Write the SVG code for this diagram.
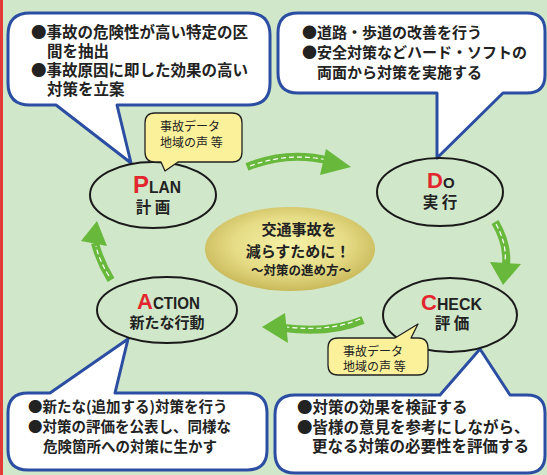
<svg xmlns="http://www.w3.org/2000/svg" width="547" height="475" viewBox="0 0 547 475">
<defs>
<radialGradient id="cg" cx="50%" cy="45%" r="55%">
<stop offset="0" stop-color="#f6f2a8"/>
<stop offset="0.6" stop-color="#e6dc86"/>
<stop offset="1" stop-color="#c9b95a"/>
</radialGradient>
<style>
.jp{font-family:"Noto Sans CJK JP","Noto Sans CJK SC",sans-serif;fill:#222;}
.call{fill:#fff;stroke:#2b4ea3;stroke-width:3;stroke-linejoin:round;}
.bub{fill:#fbf19a;stroke:#222;stroke-width:1.3;stroke-linejoin:round;}
.ell{fill:none;stroke:#1a1a1a;stroke-width:2;}
.shaft{fill:none;stroke:#67b83b;stroke-width:8;}
.dash{fill:none;stroke:#fff;stroke-width:1.2;stroke-dasharray:5 3;}
.head{fill:#67b83b;}
.lat{font-family:"Liberation Sans",Arial,sans-serif;font-weight:bold;fill:#222;}
.red{fill:#e3262e;}
</style>
</defs>
<rect x="0" y="0" width="547" height="475" fill="#d0e7c9"/>
<rect x="0" y="0" width="3" height="475" fill="#e23a36"/>

<g id="connectors">
<path class="shaft" d="M247,167 Q288,150 330,161"/>
<path class="dash" d="M250,166 Q288,152 328,160"/>
<polygon class="head" points="351,167 326,149 320,175"/>

<path class="shaft" d="M495,222 Q508,244 506,265"/>
<path class="dash" d="M496,224 Q507,244 505,262"/>
<polygon class="head" points="503,285 490,262 521,264"/>

<path class="shaft" d="M363,320 Q330,334 284,328"/>
<path class="dash" d="M360,319 Q330,332 287,327"/>
<polygon class="head" points="262,327 285,313 288,343"/>

<path class="shaft" d="M111,280 Q100,262 95,243"/>
<path class="dash" d="M109,276 Q99,260 96,246"/>
<polygon class="head" points="97,221 81,241 107,246"/>
</g>

<g id="center">
<ellipse cx="290" cy="249" rx="85" ry="42" fill="url(#cg)"/>
<text class="jp" x="299" y="235" font-size="15" font-weight="bold" text-anchor="middle">交通事故を</text>
<text class="jp" x="298" y="257" font-size="15" font-weight="bold" text-anchor="middle">減らすために！</text>
<text class="jp" x="301" y="275" font-size="12.5" font-weight="bold" text-anchor="middle">～対策の進め方～</text>
</g>

<g id="callout-plan">
<path class="call" d="M30,13 H248 Q270,13 270,35 V83 Q270,105 248,105 H117 L131,163 L56,105 H30 Q8,105 8,83 V35 Q8,13 30,13 Z"/>
<text class="jp" x="31" y="38" font-size="15.5" font-weight="bold">●事故の危険性が高い特定の区</text>
<text class="jp" x="47" y="57" font-size="15.5" font-weight="bold">間を抽出</text>
<text class="jp" x="31" y="76" font-size="15.5" font-weight="bold">●事故原因に即した効果の高い</text>
<text class="jp" x="47" y="95" font-size="15.5" font-weight="bold">対策を立案</text>
</g>

<g id="callout-do">
<path class="call" d="M298,13 H527 Q545,13 545,31 V75 Q545,93 527,93 H503 L437,158 L437,93 H298 Q278,93 278,73 V33 Q278,13 298,13 Z"/>
<text class="jp" x="302" y="38" font-size="15" font-weight="bold">●道路・歩道の改善を行う</text>
<text class="jp" x="302" y="58" font-size="15" font-weight="bold">●安全対策などハード・ソフトの</text>
<text class="jp" x="317" y="78" font-size="15" font-weight="bold">両面から対策を実施する</text>
</g>

<g id="callout-action">
<path class="call" d="M28,393 H50 L128,339 L115,393 H247 Q267,393 267,413 V450 Q267,470 247,470 H28 Q8,470 8,450 V413 Q8,393 28,393 Z"/>
<text class="jp" x="28" y="412" font-size="14.5" font-weight="bold">●新たな(追加する)対策を行う</text>
<text class="jp" x="28" y="432" font-size="14.5" font-weight="bold">●対策の評価を公表し、同様な</text>
<text class="jp" x="43" y="452" font-size="14.5" font-weight="bold">危険箇所への対策に生かす</text>
</g>

<g id="callout-check">
<path class="call" d="M295,395 H440 L480,349 L510,395 H527 Q545,395 545,413 V455 Q545,473 527,473 H295 Q275,473 275,453 V415 Q275,395 295,395 Z"/>
<text class="jp" x="297" y="413" font-size="15.5" font-weight="bold">●対策の効果を検証する</text>
<text class="jp" x="297" y="433" font-size="15.5" font-weight="bold">●皆様の意見を参考にしながら、</text>
<text class="jp" x="312" y="452" font-size="15.5" font-weight="bold">更なる対策の必要性を評価する</text>
</g>

<g id="plan">
<ellipse class="ell" cx="153" cy="195" rx="63" ry="33"/>
<text class="lat" x="133" y="193"><tspan class="red" font-size="24">P</tspan><tspan font-size="17" textLength="32" lengthAdjust="spacingAndGlyphs">LAN</tspan></text>
<text class="jp" x="153" y="213" font-size="15.5" font-weight="bold" text-anchor="middle">計 画</text>
</g>

<g id="do">
<ellipse class="ell" cx="440" cy="192" rx="63" ry="34"/>
<text class="lat" x="427" y="188"><tspan class="red" font-size="22">D</tspan><tspan font-size="15">O</tspan></text>
<text class="jp" x="440" y="208" font-size="15.5" font-weight="bold" text-anchor="middle">実 行</text>
</g>

<g id="check">
<ellipse class="ell" cx="450" cy="315" rx="67" ry="37"/>
<text class="lat" x="421" y="310"><tspan class="red" font-size="22">C</tspan><tspan font-size="17" textLength="45" lengthAdjust="spacingAndGlyphs">HECK</tspan></text>
<text class="jp" x="452" y="329" font-size="15.5" font-weight="bold" text-anchor="middle">評 価</text>
</g>

<g id="action">
<ellipse class="ell" cx="167" cy="310" rx="70" ry="33"/>
<text class="lat" x="137" y="309"><tspan class="red" font-size="22">A</tspan><tspan font-size="17" textLength="47" lengthAdjust="spacingAndGlyphs">CTION</tspan></text>
<text class="jp" x="167" y="328" font-size="15" font-weight="bold" text-anchor="middle">新たな行動</text>
</g>

<g id="bubble-plan">
<path class="bub" d="M155,113 H232 Q242,113 242,123 V152 Q242,162 232,162 H178 L165,171 L161,162 H155 Q145,162 145,152 V123 Q145,113 155,113 Z"/>
<text class="jp" x="160" y="131" font-size="12">事故データ</text>
<text class="jp" x="160" y="147" font-size="12">地域の声 等</text>
</g>

<g id="bubble-check">
<path class="bub" d="M338,338 H395 L418,324 L411,338 H418 Q428,338 428,348 V365 Q428,375 418,375 H338 Q328,375 328,365 V348 Q328,338 338,338 Z"/>
<text class="jp" x="343" y="356" font-size="12">事故データ</text>
<text class="jp" x="343" y="371" font-size="12">地域の声 等</text>
</g>
</svg>
